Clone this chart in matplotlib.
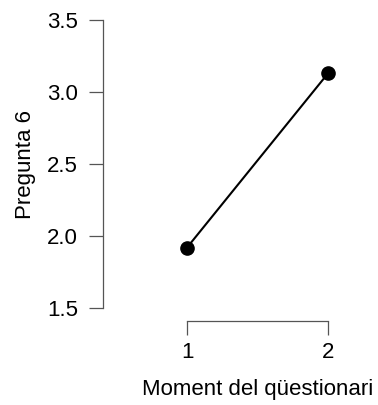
import matplotlib
matplotlib.use("Agg")
import matplotlib.pyplot as plt

# dades
moments = [1, 2]
pregunta6 = [1.92, 3.13]
yticks = [1.5, 2.0, 2.5, 3.0, 3.5]
xticks = [1, 2]

plt.rcParams["font.family"] = ["Liberation Sans", "DejaVu Sans"]

W, H = 378, 405
fig = plt.figure(figsize=(W / 100, H / 100), dpi=100)
# axes box in pixels: left 103, right 340, top 10, bottom 321
ax = fig.add_axes([103 / W, 1 - 321 / H, (340 - 103) / W, (321 - 10) / H])

ax.plot(moments, pregunta6, color="black", linewidth=1.5,
        marker="o", markersize=9.5, markerfacecolor="black", markeredgecolor="black")

ax.set_xlim(0.404, 2.085)
ax.set_ylim(1.41, 3.57)

for s in ["top", "right"]:
    ax.spines[s].set_visible(False)
ax.spines["left"].set_bounds(1.5, 3.5)
ax.spines["bottom"].set_bounds(1, 2)
for s in ["left", "bottom"]:
    ax.spines[s].set_color("#555555")
    ax.spines[s].set_linewidth(0.9)

ax.set_yticks(yticks)
ax.set_yticklabels([f"{v:.1f}" for v in yticks])
ax.set_xticks(xticks)
ax.set_xticklabels([str(v) for v in xticks])
ax.tick_params(axis="both", length=10, width=0.9, color="#555555",
               labelsize=16)
ax.tick_params(axis="y", pad=8)
ax.tick_params(axis="x", pad=5)

ax.set_ylabel("Pregunta 6", fontsize=16)
ax.set_xlabel("Moment del qüestionari", fontsize=16)
# centre the labels where the reference has them (pixel coords)
ax.yaxis.set_label_coords((25 - 103) / 237, (321 - 164) / 311)
ax.xaxis.set_label_coords((258 - 103) / 237, (321 - 390) / 311)
ax.yaxis.label.set_va("center")
ax.xaxis.label.set_va("center")

fig.savefig("out.png", dpi=100)
